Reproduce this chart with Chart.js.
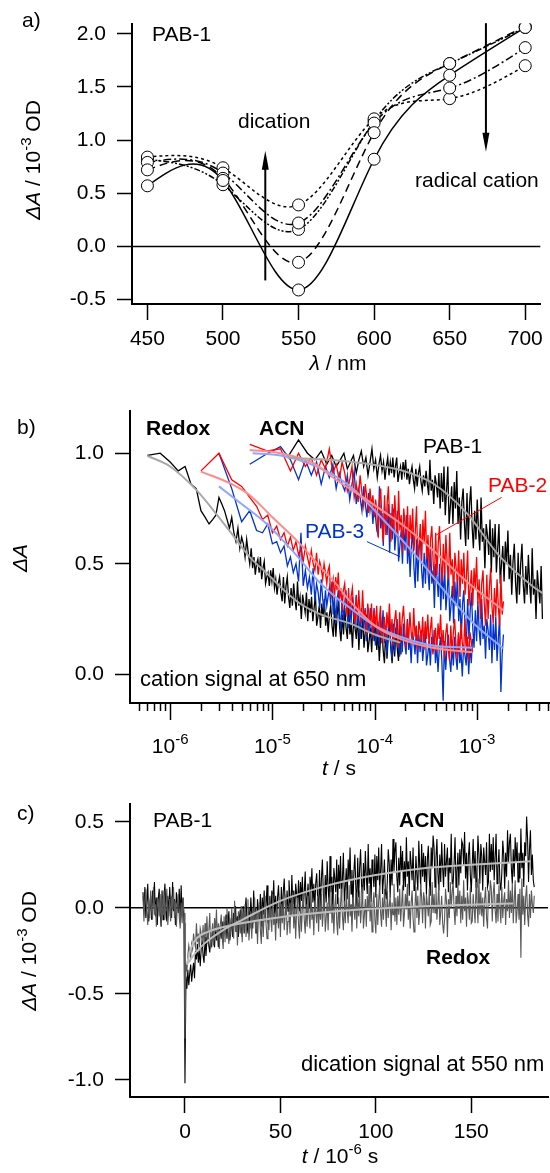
<!DOCTYPE html>
<html>
<head>
<meta charset="utf-8">
<title>PAB-1 transient absorption</title>
<script src="https://cdn.jsdelivr.net/npm/chart.js@4.4.1/dist/chart.umd.min.js"></script>
<style>
  body { margin: 0; background: #fff; }
  #page { position: relative; width: 550px; height: 1173px; overflow: hidden;
          font-family: "Liberation Sans", Arial, sans-serif; color: #000; }
  canvas { position: absolute; left: 0; }
  .t { position: absolute; font-size: 21px; line-height: 21px; white-space: nowrap; }
  .b { font-weight: bold; }
  .big { font-size: 22px; line-height: 22px; }
  .xt { transform: translateX(-50%); }
  .yt { transform: translate(-50%, -50%) rotate(-90deg); }
  .sup { font-size: 15px; position: relative; top: -9px; }
  i { font-style: italic; }
</style>
</head>
<body>
<div id="page">
  <canvas id="spec" width="550" height="370" style="top:0"></canvas>
  <canvas id="cation" width="550" height="400" style="top:370px"></canvas>
  <canvas id="dication" width="550" height="403" style="top:770px"></canvas>

  <div class="t" style="left:22px;top:9px">a)</div>
  <div class="t" style="left:152px;top:23px">PAB-1</div>
  <div class="t" style="left:238px;top:110px">dication</div>
  <div class="t" style="left:415px;top:169px">radical cation</div>
  <div class="t yt" style="left:33px;top:160px"><i>ΔA</i> / 10<span class="sup">-3</span> OD</div>
  <div class="t xt" style="left:338px;top:352px"><i>λ</i> / nm</div>

  <div class="t" style="left:17px;top:416px">b)</div>
  <div class="t b" style="left:146px;top:417px">Redox</div>
  <div class="t b" style="left:259px;top:417px">ACN</div>
  <div class="t" style="left:423px;top:435px">PAB-1</div>
  <div class="t" style="left:488px;top:474px;color:#ff0000">PAB-2</div>
  <div class="t" style="left:305px;top:520px;color:#0033cc">PAB-3</div>
  <div class="t big" style="left:140px;top:668px">cation signal at 650 nm</div>
  <div class="t yt" style="left:19px;top:558px"><i>ΔA</i></div>
  <div class="t xt" style="left:339px;top:757px"><i>t</i> / s</div>

  <div class="t" style="left:17px;top:802px">c)</div>
  <div class="t" style="left:153px;top:809px">PAB-1</div>
  <div class="t b" style="left:399px;top:809px">ACN</div>
  <div class="t b" style="left:426px;top:946px">Redox</div>
  <div class="t big" style="left:301px;top:1053px">dication signal at 550 nm</div>
  <div class="t yt" style="left:29px;top:951px"><i>ΔA</i> / 10<span class="sup">-3</span> OD</div>
  <div class="t xt" style="left:340px;top:1145px"><i>t</i> / 10<span class="sup">-6</span> s</div>
</div>

<script>
// ---- a) spectra of PAB-1 at successive delays ----
const wavelengths = [450, 500, 550, 600, 650, 700];
const specSolid   = [0.57, 0.62, -0.41, 0.82, 1.61, 2.06];
const specLong    = [0.72, 0.64, -0.15, 1.07, 1.72, 2.07];
const specDashDot = [0.79, 0.69, 0.22, 1.16, 1.49, 1.87];
const specShort   = [0.84, 0.74, 0.39, 1.20, 1.39, 1.70];
const specDotDot  = [0.82, 0.58, 0.16, 1.18, 1.72, 2.06];
const specTicksY  = [-0.5, 0, 0.5, 1, 1.5, 2];
// arrows: [wavelength, from, to]
const arrowUp   = [528, -0.32, 0.90];
const arrowDown = [674, 2.10, 0.89];

// ---- b) cation decay at 650 nm (log time) ----
const PER_DECADE = 80;
const redoxBlack = [.99,1.00,.96,.92,.94,.86,.84,.74,.71,.68,.70,.72,.80,.77,.74,.70,.66,.71,.64,.60,
  .66,.57,.62,.59,.53,.61,.55,.50,.57,.48,.53,.45,.50,
  .52,.46,.53,.43,.48,.51,.41,.44,.46,.40,
  .47,.42,.48,.39,.43,.36,.41,.44,.37,.33,
  .44,.32,.40,.44,.35,.30,.39,.31,.41,.34,
  .29,.42,.31,.35,.25,.36,.32,.28,.37,.24,
  .34,.28,.35,.24,.30,.36,.22,.26,.31,.21,
  .32,.26,.34,.22,.28,.19,.27,.31,.22,.17,
  .30,.17,.27,.33,.21,.15,.27,.18,.30,.21,
  .16,.32,.18,.23,.12,.26,.21,.16,.27,.11,
  .24,.16,.27,.12,.19,.27,.10,.15,.21,.10,
  .23,.15,.26,.11,.19,.06,.17,.22,.11,.05,
  .20,.07,.17,.23,.12,.05,.17,.08,.21,.12,
  .06,.22,.09];
const redoxRed = [.92,1.00,.88,.85,.80,.76,.70,.72,.64,.67,.61,.64,.58,.62,.56,
  .60,.54,.57,.51,.58,.53,.49,.56,.50,.47,.55,.45,.51,.48,.43,.50,.46,.41,.47,
  .49,.35,.39,.43,.34,.44,.38,.46,.34,.39,
  .29,.38,.41,.32,.26,.39,.27,.35,.39,.30,
  .23,.35,.25,.38,.28,.23,.38,.25,.29,.18,
  .32,.27,.22,.32,.17,.29,.21,.31,.17,.24,
  .31,.14,.20,.26,.15,.28,.21,.32,.17,.25,
  .13,.24,.29,.18,.12,.28,.15,.25,.31,.20,
  .12,.24,.15,.28,.19,.14,.30,.17,.22,.11,
  .24,.20,.15,.26,.11,.24,.16,.27,.13,.20,
  .26,.09,.15,.21,.10,.23,.16,.27,.12,.20,
  .07,.18,.23,.12,.06,.22,.09,.19,.25,.14,
  .07,.19,.10,.23,.14,.09,.25,.12,.17,.06,
  .19,.15,.10];
const redoxBlue = [1.00,.84,.69,.74,.65,.64,.68,.59,.60,.55,.58,.49,.53,.46,
  .50,.42,.64,.40,.47,.39,.44,.36,.48,.33,.41,.37,.30,.43,.34,.29,.38,.31,.35,
  .39,.32,.42,.27,.35,.23,.33,.38,.27,.20,
  .36,.23,.32,.38,.27,.21,.32,.23,.35,.26,
  .21,.36,.23,.27,.16,.30,.25,.20,.30,.15,
  .28,.19,.30,.16,.22,.30,.13,.18,.24,.13,
  .26,.18,.29,.14,.22,.09,.20,.25,.14,.07,
  .23,.10,.20,.25,.14,.08,.20,.10,.23,.14,
  .09,.25,.11,.16,.05,.19,.15,.09,.20,.05,
  .18,.10,.20,.06,.13,.21,.04,.09,.15,.04,
  .17,.10,.20,.05,.13,.01,.12,.17,.06,-.12,
  .15,.02,.12,.18,.07,.01,.13,.04,.17,.08,
  .02,.18,.05,.10,-.01,.13,.09,.04,.15,.00,
  .13,.05,.16];
const acnBlack = [.98,1.06,1.00,.97,1.01,.95,.99,.94,.97,1.00,.93,.96,.99,.91,.97,1.01,
  .94,.98,.90,.96,1.02,.93,.97,.89,.95,.99,.92,.96,.88,.94,.98,.90,
  .96,.91,.98,.89,.94,.98,.87,.91,.94,.88,
  .96,.91,.97,.88,.93,.86,.91,.94,.88,.84,
  .93,.85,.91,.94,.87,.83,.90,.85,.92,.86,
  .81,.97,.83,.88,.77,.90,.86,.80,.91,.75,
  .91,.78,.94,.72,.83,.94,.68,.76,.85,.68,
  .87,.75,.92,.68,.80,.61,.78,.84,.68,.58,
  .82,.61,.77,.85,.67,.57,.74,.61,.79,.65,
  .56,.80,.60,.66,.48,.68,.63,.54,.70,.46,
  .66,.53,.68,.46,.57,.68,.41,.50,.58,.42,
  .60,.50,.65,.43,.54,.36,.51,.59,.41,.32,
  .55,.36,.50,.59,.41,.32,.49,.36,.54,.41,
  .32,.57,.36,.43,.25,.47,.39,.32,.49,.25];
const acnRed = [1.04,1.01,1.02,.92,1.00,.94,.98,.90,.97,.93,1.02,.91,.95,.88,.96,
  .91,.83,.88,.94,.80,.86,.78,.90,.82,.76,.86,.79,.73,.84,.76,.81,.71,.79,.74,
  .62,.78,.84,.68,.60,.81,.63,.77,.85,.69,
  .60,.77,.64,.81,.69,.62,.83,.65,.72,.55,
  .75,.68,.62,.76,.55,.72,.61,.75,.56,.64,
  .76,.52,.59,.68,.51,.70,.59,.74,.52,.63,
  .45,.61,.67,.51,.42,.64,.45,.59,.67,.51,
  .42,.59,.45,.63,.50,.43,.64,.45,.52,.35,
  .55,.48,.42,.56,.35,.52,.41,.55,.36,.44,
  .56,.31,.39,.47,.31,.48,.39,.53,.32,.43,
  .25,.41,.47,.32,.22,.45,.25,.39,.48,.31,
  .23,.39,.26,.43,.31,.22,.45,.27,.33];
const acnBlue = [.95,1.00,1.03,.97,.88,.97,.90,.96,.86,.94,.89,.95,.84,.91,.86,
  .83,.90,.79,.86,.92,.77,.84,.80,.74,.85,.77,.71,.82,.74,.79,.68,.76,.71,.65,
  .63,.85,.66,.73,.58,.76,.69,.63,.77,.55,
  .73,.61,.75,.56,.64,.74,.51,.58,.65,.50,
  .67,.56,.72,.50,.61,.44,.58,.65,.48,.39,
  .61,.42,.56,.64,.47,.39,.55,.41,.58,.46,
  .38,.59,.41,.47,.30,.50,.44,.35,.50,.29,
  .46,.34,.49,.29,.37,.49,.24,.31,.40,.23,
  .42,.31,.45,.24,.34,.16,.32,.38,.21,.13,
  .34,.16,.29,.37,.21,.12,.29,.15,.33,.20,
  .13,.34,.16,.22,.07,.25,.20,.11,.27,.05,
  .23,.11,.26,.06,.16,.26,-.08,.09,.18];
// first sample time and raw sample spacing of each record (s)
const redoxBlackStart = [6e-7, 2e-7];
const redoxRedStart   = [2e-6, 1e-6];
const redoxBlueStart  = [3e-6, 1e-6];
const acnBlackStart   = [1.4e-5, 4e-6];
const acnRedStart     = [6e-6, 3e-6];
const acnBlueStart    = [6e-6, 3e-6];

// fitted curves
const fitRedoxBlackT = [6e-7, 1e-6, 1.8e-6, 3e-6, 4.2e-6, 6e-6, 8.8e-6, 1.3e-5, 1.86e-5, 3e-5, 5.75e-5, 1e-4, 1.78e-4];
const fitRedoxBlackV = [0.988, 0.94, 0.834, 0.71, 0.623, 0.53, 0.457, 0.38, 0.32, 0.27, 0.23, 0.18, 0.143];
const fitRedoxRedT = [2e-6, 4e-6, 6e-6, 1e-5, 1.86e-5, 3e-5, 4e-5, 5.75e-5, 1e-4, 1.78e-4, 3.7e-4, 9e-4];
const fitRedoxRedV = [0.917, 0.86, 0.81, 0.71, 0.59, 0.48, 0.42, 0.33, 0.22, 0.16, 0.12, 0.10];
const fitRedoxBlueT = [3e-6, 5e-6, 8.8e-6, 1.3e-5, 1.86e-5, 2.7e-5, 3.9e-5, 5.75e-5, 1e-4, 1.78e-4, 3.7e-4, 9e-4];
const fitRedoxBlueV = [0.85, 0.77, 0.68, 0.60, 0.52, 0.43, 0.36, 0.30, 0.22, 0.17, 0.13, 0.12];
const fitAcnBlackT = [1.4e-5, 1.86e-5, 5.75e-5, 1.78e-4, 3.7e-4, 7.9e-4, 1.68e-3, 3.55e-3, 4.4e-3];
const fitAcnBlackV = [0.98, 0.977, 0.962, 0.924, 0.864, 0.73, 0.532, 0.396, 0.367];
const fitAcnRedT = [6e-6, 1.2e-5, 2.65e-5, 3.9e-5, 8.3e-5, 1.78e-4, 3.7e-4, 7.9e-4, 1.8e-3];
const fitAcnRedV = [1.015, 1.0, 0.95, 0.89, 0.79, 0.683, 0.562, 0.42, 0.29];
const fitAcnBlueT = [6.4e-6, 1.2e-5, 2.7e-5, 5.75e-5, 1.21e-4, 2.6e-4, 5.4e-4, 9.3e-4, 1.8e-3];
const fitAcnBlueV = [1.0, 0.99, 0.94, 0.85, 0.70, 0.53, 0.35, 0.23, 0.118];

const decadeTicks = [1e-6, 1e-5, 1e-4, 1e-3];
const decadeLabels = ['-6', '-5', '-4', '-3'];
const cationTicksY = [0, 0.5, 1];
// leader lines: [t, y] pairs
const leaderPab2 = [[1.74e-3, 0.80], [4.0e-4, 0.63]];
const leaderPab3 = [[8.4e-5, 0.60], [1.77e-4, 0.532]];

// ---- c) dication signal at 550 nm ----
const transientStart = -22;   // µs
const transientStep = 0.5;    // µs per point
const acnTransient = [
  .09,-.02,.12,-.06,.03,.14,-.08,-.01,.07,-.07,.10,.01,.15,-.05,.06,-.10,.05,.11,-.03,-.11,
  .10,-.07,.06,.14,-.01,-.08,.07,-.05,.12,.01,-.06,.15,-.02,.05,-.10,.09,.03,-.03,.11,-.08,
  .13,-.04,.06,-.09,
  -1.02,
  -.40,-.47,-.36,-.45,-.38,-.33,-.43,-.37,-.32,-.41,
  -.25,-.30,-.21,-.32,-.25,-.34,-.24,-.19,-.28,-.32,
  -.17,-.28,-.19,-.14,-.22,-.26,-.16,-.23,-.12,-.19,
  -.23,-.09,-.19,-.14,-.23,-.12,-.14,-.18,-.08,-.20,
  -.08,-.15,-.04,-.18,-.10,-.02,-.19,-.13,-.06,-.17,
  -.03,-.10,.01,-.14,-.05,-.17,-.06,-.01,-.11,-.17,
  .01,-.15,-.02,.06,-.09,-.15,.00,-.12,.06,-.05,
  -.12,.10,-.07,.00,-.15,.05,-.02,-.07,.08,-.11,
  .06,-.04,.10,-.08,.02,.13,-.09,-.02,.07,-.07,
  .10,.01,.16,-.04,.07,-.09,.06,.13,-.01,-.09,
  .12,-.05,.09,.17,.02,-.05,.10,-.02,.16,.05,
  -.02,.19,.02,.10,-.05,.14,.08,.02,.16,-.02,
  .15,.04,.18,.00,.09,.21,-.01,.06,.14,.00,
  .18,.09,.23,.03,.14,-.01,.14,.20,.06,-.02,
  .22,.00,.17,.28,.08,-.02,.19,.03,.27,.12,
  .02,.30,.09,.18,-.02,.23,.17,.09,.28,.02,
  .25,.11,.30,.05,.17,.32,.03,.12,.23,.05,
  .28,.16,.35,.08,.22,.01,.21,.31,.12,.01,
  .29,.06,.23,.34,.14,.04,.26,.10,.33,.18,
  .08,.37,.14,.23,.03,.28,.20,.12,.31,.06,
  .30,.16,.35,.10,.22,.37,.08,.17,.28,.09,
  .05,.15,.34,.26,.06,.28,.13,.40,.21,.33,
  .38,.18,.09,.29,.13,.36,.21,.33,.10,.27,
  .12,.41,.18,.27,.07,.33,.25,.16,.35,.10,
  .11,.30,.19,.10,.39,.24,.12,.37,.18,.32,
  .15,.30,.08,.28,.36,.17,.07,.35,.23,.42,
  .35,.12,.29,.40,.20,.10,.31,.15,.38,.23,
  .12,.37,.18,.27,.35,.09,.29,.20,.43,.14,
  .14,.26,.41,.12,.21,.32,.13,.34,.20,.39,
  .37,.25,.44,.17,.32,.10,.30,.38,.19,.09,
  .25,.40,.17,.33,.12,.22,.42,.31,.14,.37,
  .30,.10,.35,.27,.19,.38,.12,.15,.43,.21,
  .37,.22,.41,.16,.29,.43,.14,.23,.34,.15,
  .10,.20,.39,.31,.11,.32,.18,.45,.26,.38,
  .43,.23,.14,.34,.18,.41,.26,.38,.15,.32,
  .17,.46,.23,.32,.12,.38,.30,.53,.40,.15,
  .34,.45,.19,.31,.16,.12];
const redoxTransient = [
  .07,-.08,.04,.11,-.02,-.10,.05,-.06,.10,-.01,-.07,.12,-.04,.02,-.11,.06,.01,-.05,.08,-.10,
  .06,-.04,.10,-.07,.01,.11,-.10,-.02,.05,-.08,.07,-.01,.12,-.06,.04,-.11,.02,.08,-.05,-.12,
  .03,-.09,.05,-.03,
  -.76,
  -.32,-.37,-.28,-.22,-.26,-.29,-.21,-.24,-.15,-.20,
  -.23,-.09,-.20,-.15,-.25,-.12,-.15,-.20,-.10,-.23,
  -.09,-.19,-.05,-.21,-.13,-.03,-.24,-.16,-.09,-.22,
  -.06,-.14,-.01,-.19,-.09,-.24,-.10,-.04,-.17,-.24,
  -.05,-.20,-.07,.00,-.13,-.21,-.06,-.16,.00,-.11,
  -.18,.04,-.14,-.07,-.22,-.02,-.09,-.15,.01,-.20,
  -.02,-.13,.02,-.17,-.08,.05,-.19,-.11,-.02,-.18,
  .00,-.09,.06,-.15,-.04,-.21,-.04,.03,-.13,-.21,
  .01,-.17,-.03,.07,-.10,-.18,-.01,-.13,.05,-.07,
  -.14,.08,-.10,-.03,-.19,.01,-.05,-.12,.04,-.17,
  .02,-.09,.06,-.13,-.04,.08,-.16,-.08,.01,-.15,
  .03,-.05,.09,-.12,.00,-.18,-.01,.06,-.10,-.18,
  .04,-.14,.00,.09,-.07,-.15,.02,-.11,.07,-.04,
  -.12,.10,-.07,.00,-.16,.04,-.02,-.09,.07,-.14,
  .04,-.07,.08,-.11,-.02,.10,-.14,-.06,.03,-.13,
  .06,-.03,.12,-.09,.02,-.15,.01,.08,-.08,-.16,
  .06,-.12,.02,.11,-.05,-.13,.04,-.09,.09,-.02,
  -.09,.13,-.05,.02,-.14,.06,.00,-.07,.09,-.12,
  .06,-.05,.10,-.09,.00,.12,-.12,-.04,.05,-.11,
  .07,-.02,.13,-.08,.03,-.14,.02,.09,-.07,-.15,
  .08,-.10,.04,.13,-.03,-.11,.06,-.07,.11,.00,
  -.11,.10,-.06,.01,.07,-.13,.03,-.04,.14,-.08,
  .06,-.10,.07,-.04,.11,-.08,.01,.13,-.11,-.03,
  .08,-.01,.14,-.07,.04,-.12,.03,.10,-.06,-.14,
  .01,.12,-.06,.07,-.10,-.02,.14,.06,-.09,.09,
  .05,-.12,.08,.02,-.05,.11,-.10,-.08,.15,-.03,
  .08,-.03,.12,-.07,.02,.14,-.10,-.02,.07,-.09,
  -.15,-.07,.11,.04,-.17,.05,-.06,.15,.00,.09,
  .15,-.01,-.10,.07,-.05,.13,.00,.10,-.09,.07,
  -.07,.16,-.02,.06,-.11,.09,.03,-.07,.12,-.09,
  -.08,.08,-.01,-.09,.15,.03,-.09,.17,-.04,.09,
  -.05,.06,-.11,.05,.12,-.06,-.12,.10,.01,.16,
  .11,-.08,.08,.15,-.01,-.09,.08,-.08,.13,.01,
  -.09,.12,-.06,.04,.09,-.10,.05,-.02,.16,-.06,
  .10,-.03,.14,-.09,.04,.16,-.09,-.02,.08,-.07,
  .11,-.29,.17,-.04,.07,-.10,.06,.13,-.04,-.11,
  .08,-.06,.10,.02,-.03,.07];
const fitAcnTransT = [1, 5, 10, 20, 30, 50, 75, 100, 125, 150, 181];
const fitAcnTransV = [-0.33, -0.27, -0.21, -0.13, -0.07, 0.04, 0.13, 0.19, 0.23, 0.25, 0.27];
const fitRedoxTransT = [1, 3, 6, 12, 25, 50, 75, 100, 140, 172];
const fitRedoxTransV = [-0.33, -0.24, -0.18, -0.14, -0.10, -0.055, -0.025, -0.005, 0.015, 0.025];
const transientTicksX = [0, 50, 100, 150];
const transientTicksY = [-1, -0.5, 0, 0.5];

// ---------------------------------------------------------------
Chart.defaults.font.family = '"Liberation Sans", Arial, sans-serif';
Chart.defaults.font.size = 21;
Chart.defaults.color = '#000';

// sample times: raw spacing early on, decimated to PER_DECADE points per decade later
function sampleTimes(start, n) {
  const grow = Math.pow(10, 1 / PER_DECADE) - 1;
  const out = [];
  let t = start[0];
  for (let i = 0; i < n; i++) { out.push(t); t += Math.max(start[1], t * grow); }
  return out;
}
function pairs(xs, ys) { return ys.map((v, i) => ({ x: xs[i], y: v })); }
function trace(start, vals, color) {
  return { data: pairs(sampleTimes(start, vals.length), vals), borderColor: color,
           borderWidth: 1.3, showLine: true, pointRadius: 0 };
}
function fitLine(ts, vs, color) {
  return { data: pairs(ts, vs), borderColor: color, borderWidth: 2, showLine: true,
           pointRadius: 0, cubicInterpolationMode: 'monotone' };
}

// natural cubic spline through the points, as Bezier segments in data space
function naturalSpline(xs, ys) {
  const n = xs.length, M = new Array(n).fill(0);
  const a = [], b = [], c = [], r = [];
  for (let i = 1; i < n - 1; i++) {
    const h0 = xs[i] - xs[i - 1], h1 = xs[i + 1] - xs[i];
    a.push(h0 / 6); b.push((h0 + h1) / 3); c.push(h1 / 6);
    r.push((ys[i + 1] - ys[i]) / h1 - (ys[i] - ys[i - 1]) / h0);
  }
  const m = r.length;
  for (let i = 1; i < m; i++) {
    const w = a[i] / b[i - 1];
    b[i] -= w * c[i - 1]; r[i] -= w * r[i - 1];
  }
  for (let i = m - 1; i >= 0; i--) M[i + 1] = (r[i] - c[i] * M[i + 2]) / b[i];
  const segs = [];
  for (let i = 0; i < n - 1; i++) {
    const h = xs[i + 1] - xs[i], s = (ys[i + 1] - ys[i]) / h;
    const d0 = s - h * (2 * M[i] + M[i + 1]) / 6;
    const d1 = s + h * (M[i] + 2 * M[i + 1]) / 6;
    segs.push([xs[i] + h / 3, ys[i] + d0 * h / 3, xs[i + 1] - h / 3, ys[i + 1] - d1 * h / 3, xs[i + 1], ys[i + 1]]);
  }
  return segs;
}

const splinePlugin = {
  id: 'spline',
  beforeDatasetsDraw(chart) {
    const { ctx, scales: { x, y } } = chart;
    ctx.save();
    ctx.strokeStyle = '#000';
    ctx.lineWidth = 1.5;
    chart.data.datasets.forEach(ds => {
      const xs = ds.data.map(p => p.x), ys = ds.data.map(p => p.y);
      ctx.setLineDash(ds.borderDash || []);
      ctx.beginPath();
      ctx.moveTo(x.getPixelForValue(xs[0]), y.getPixelForValue(ys[0]));
      naturalSpline(xs, ys).forEach(s => ctx.bezierCurveTo(
        x.getPixelForValue(s[0]), y.getPixelForValue(s[1]),
        x.getPixelForValue(s[2]), y.getPixelForValue(s[3]),
        x.getPixelForValue(s[4]), y.getPixelForValue(s[5])));
      ctx.stroke();
    });
    ctx.restore();
  }
};

const zeroLine = {
  id: 'zeroLine',
  beforeDatasetsDraw(chart) {
    const { ctx, chartArea: area, scales: { y } } = chart;
    const py = y.getPixelForValue(0);
    ctx.save();
    ctx.strokeStyle = '#000';
    ctx.lineWidth = 1.5;
    ctx.beginPath(); ctx.moveTo(area.left, py); ctx.lineTo(area.right, py); ctx.stroke();
    ctx.restore();
  }
};

const arrowPlugin = {
  id: 'arrows',
  afterDatasetsDraw(chart) {
    const { ctx, scales: { x, y } } = chart;
    ctx.save();
    ctx.strokeStyle = ctx.fillStyle = '#000';
    ctx.lineWidth = 2;
    [arrowUp, arrowDown].forEach(([w, from, to]) => {
      const px = x.getPixelForValue(w), y0 = y.getPixelForValue(from), y1 = y.getPixelForValue(to);
      const dir = Math.sign(y1 - y0);
      ctx.beginPath(); ctx.moveTo(px, y0); ctx.lineTo(px, y1 - dir * 12); ctx.stroke();
      ctx.beginPath(); ctx.moveTo(px, y1); ctx.lineTo(px - 3.5, y1 - dir * 19);
      ctx.lineTo(px + 3.5, y1 - dir * 19); ctx.closePath(); ctx.fill();
    });
    ctx.restore();
  }
};

const leaderPlugin = {
  id: 'leaders',
  afterDatasetsDraw(chart) {
    const { ctx, scales: { x, y } } = chart;
    ctx.save();
    ctx.lineWidth = 1;
    [[leaderPab2, '#ff0000'], [leaderPab3, '#0033cc']].forEach(([pts, col]) => {
      ctx.strokeStyle = col;
      ctx.beginPath();
      ctx.moveTo(x.getPixelForValue(pts[0][0]), y.getPixelForValue(pts[0][1]));
      ctx.lineTo(x.getPixelForValue(pts[1][0]), y.getPixelForValue(pts[1][1]));
      ctx.stroke();
    });
    ctx.restore();
  }
};

// log time axis: long ticks on decades, short ones in between, labels 10^n
const logAxisPlugin = {
  id: 'logAxis',
  afterDraw(chart) {
    const { ctx, scales: { x } } = chart;
    ctx.save();
    ctx.strokeStyle = ctx.fillStyle = '#000';
    ctx.lineWidth = 1.5;
    x.ticks.forEach(t => {
      const px = Math.round(x.getPixelForValue(t.value)) + 0.5;
      const major = decadeTicks.includes(t.value);
      ctx.beginPath(); ctx.moveTo(px, x.top); ctx.lineTo(px, x.top + (major ? 17 : 8)); ctx.stroke();
    });
    ctx.textBaseline = 'alphabetic';
    decadeTicks.forEach((v, i) => {
      const px = x.getPixelForValue(v), base = x.top + 50;
      ctx.font = '21px "Liberation Sans", Arial, sans-serif';
      const w1 = ctx.measureText('10').width;
      ctx.font = '15px "Liberation Sans", Arial, sans-serif';
      const w2 = ctx.measureText(decadeLabels[i]).width;
      const left = px - (w1 + w2) / 2;
      ctx.font = '21px "Liberation Sans", Arial, sans-serif';
      ctx.fillText('10', left, base);
      ctx.font = '15px "Liberation Sans", Arial, sans-serif';
      ctx.fillText(decadeLabels[i], left + w1, base - 9);
    });
    ctx.restore();
  }
};

const axisGrid = { drawOnChartArea: false, drawTicks: true, tickLength: 15, tickWidth: 1.5, tickColor: '#000' };
const axisBorder = { color: '#000', width: 2 };
const quiet = { legend: { display: false }, tooltip: { enabled: false } };
function fixed(values) { return s => { s.ticks = values.map(v => ({ value: v })); }; }

// a)
const specDash = [[], [8, 5], [8, 3, 2, 3], [3, 3], [6, 2, 2, 2, 2, 2]];
new Chart(document.getElementById('spec'), {
  type: 'scatter',
  data: {
    datasets: [specSolid, specLong, specDashDot, specShort, specDotDot].map((vals, k) => ({
      data: pairs(wavelengths, vals), showLine: false, borderDash: specDash[k],
      pointRadius: 6, pointBackgroundColor: '#fff', pointBorderColor: '#000', pointBorderWidth: 1
    }))
  },
  options: {
    responsive: false, animation: false, events: [],
    layout: { padding: { top: 17, right: 6, left: 0, bottom: 0 } },
    plugins: quiet,
    scales: {
      x: { type: 'linear', min: 439.8, max: 710, afterBuildTicks: fixed(wavelengths),
           afterFit: s => { s.height = 66; },
           grid: { ...axisGrid, tickLength: 16 }, border: axisBorder,
           ticks: { padding: 7, maxRotation: 0, autoSkip: false, callback: v => String(v) } },
      y: { min: -0.542, max: 2.096, afterBuildTicks: fixed(specTicksY),
           afterFit: s => { s.width = 132; },
           grid: axisGrid, border: axisBorder,
           ticks: { padding: 11, autoSkip: false, callback: v => v.toFixed(1) } }
    }
  },
  plugins: [zeroLine, splinePlugin, arrowPlugin]
});

// b)
const minorTimes = [];
[1e-7, 1e-6, 1e-5, 1e-4, 1e-3].forEach(d => { for (let k = 1; k <= 9; k++) minorTimes.push(k * d); });
new Chart(document.getElementById('cation'), {
  type: 'scatter',
  data: {
    datasets: [
      fitLine(fitRedoxBlackT, fitRedoxBlackV, '#a8a8a8'),
      fitLine(fitRedoxRedT, fitRedoxRedV, '#ff8c8c'),
      fitLine(fitRedoxBlueT, fitRedoxBlueV, '#8fa6ff'),
      fitLine(fitAcnBlackT, fitAcnBlackV, '#a8a8a8'),
      fitLine(fitAcnRedT, fitAcnRedV, '#ff8c8c'),
      fitLine(fitAcnBlueT, fitAcnBlueV, '#8fa6ff'),
      trace(redoxRedStart, redoxRed, '#ff0000'),
      trace(acnRedStart, acnRed, '#ff0000'),
      trace(redoxBlueStart, redoxBlue, '#0033cc'),
      trace(acnBlueStart, acnBlue, '#0033cc'),
      trace(redoxBlackStart, redoxBlack, '#000000'),
      trace(acnBlackStart, acnBlack, '#000000')
    ]
  },
  options: {
    responsive: false, animation: false, events: [],
    layout: { padding: { top: 41, right: 1, left: 0, bottom: 0 } },
    plugins: quiet,
    scales: {
      x: { type: 'logarithmic', min: 4.05e-7, max: 5.06e-3,
           afterBuildTicks: s => { s.ticks = minorTimes.filter(v => v >= s.min && v <= s.max).map(v => ({ value: v })); },
           afterFit: s => { s.height = 67; },
           grid: { display: false }, border: axisBorder, ticks: { display: false } },
      y: { min: -0.130, max: 1.191, afterBuildTicks: fixed(cationTicksY),
           afterFit: s => { s.width = 130; },
           grid: axisGrid, border: axisBorder,
           ticks: { padding: 11, autoSkip: false, callback: v => v.toFixed(1) } }
    }
  },
  plugins: [leaderPlugin, logAxisPlugin]
});

// c)
const transientTimes = acnTransient.map((_, i) => transientStart + i * transientStep);
new Chart(document.getElementById('dication'), {
  type: 'scatter',
  data: {
    datasets: [
      fitLine(fitAcnTransT, fitAcnTransV, '#bdbdbd'),
      fitLine(fitRedoxTransT, fitRedoxTransV, '#bdbdbd'),
      { data: pairs(transientTimes, redoxTransient), borderColor: '#585858', borderWidth: 1.1, showLine: true, pointRadius: 0 },
      { data: pairs(transientTimes, acnTransient), borderColor: '#000000', borderWidth: 1.1, showLine: true, pointRadius: 0 }
    ]
  },
  options: {
    responsive: false, animation: false, events: [],
    layout: { padding: { top: 34, right: 2, left: 0, bottom: 0 } },
    plugins: quiet,
    scales: {
      x: { type: 'linear', min: -28.8, max: 190.2, afterBuildTicks: fixed(transientTicksX),
           afterFit: s => { s.height = 76; },
           grid: { ...axisGrid, tickLength: 16 }, border: axisBorder,
           ticks: { padding: 7, maxRotation: 0, autoSkip: false, callback: v => String(v) } },
      y: { min: -1.100, max: 0.603, afterBuildTicks: fixed(transientTicksY),
           afterFit: s => { s.width = 130; },
           grid: axisGrid, border: axisBorder,
           ticks: { padding: 11, autoSkip: false, callback: v => v.toFixed(1) } }
    }
  },
  plugins: [zeroLine]
});
</script>
</body>
</html>
